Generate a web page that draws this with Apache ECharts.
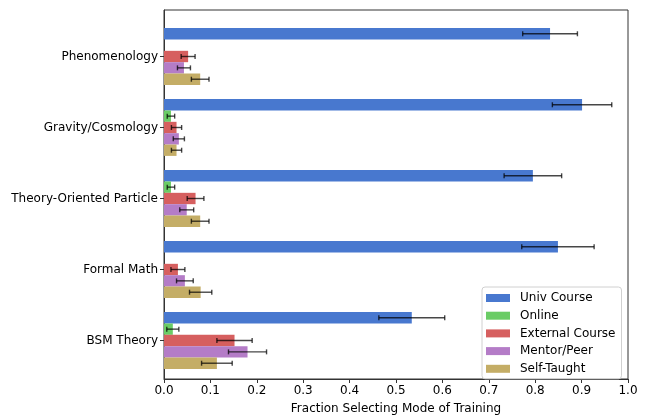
<!DOCTYPE html>
<html>
<head>
<meta charset="utf-8">
<script src="https://cdn.jsdelivr.net/npm/echarts@6/dist/echarts.min.js"></script>
<style>
  html, body { margin: 0; padding: 0; background: #fff; }
  #chart { width: 650px; height: 420px; }
</style>
</head>
<body>
<div id="chart"></div>
<script>
// categories, top to bottom
const categories = ['Phenomenology', 'Gravity/Cosmology', 'Theory-Oriented Particle', 'Formal Math', 'BSM Theory']
const seriesNames = ['Univ Course', 'Online', 'External Course', 'Mentor/Peer', 'Self-Taught']
const colors = ['#4878CF', '#6ACC65', '#D65F5F', '#B47CC7', '#C4AD66']

// fractions per category
const univCourse = [0.832, 0.901, 0.795, 0.849, 0.534]
const online = [0, 0.015, 0.015, 0, 0.019]
const externalCourse = [0.052, 0.027, 0.068, 0.030, 0.152]
const mentorPeer = [0.043, 0.032, 0.049, 0.045, 0.180]
const selfTaught = [0.078, 0.027, 0.078, 0.079, 0.114]

// error bar half-widths
const univCourseErr = [0.059, 0.064, 0.062, 0.078, 0.071]
const onlineErr = [0, 0.008, 0.008, 0, 0.013]
const externalCourseErr = [0.015, 0.011, 0.018, 0.015, 0.038]
const mentorPeerErr = [0.014, 0.012, 0.015, 0.018, 0.041]
const selfTaughtErr = [0.019, 0.011, 0.019, 0.024, 0.033]

const xTicks = { min: 0, max: 1, interval: 0.1 }

const values = [univCourse, online, externalCourse, mentorPeer, selfTaught]
const errors = [univCourseErr, onlineErr, externalCourseErr, mentorPeerErr, selfTaughtErr]

const BAR_FRAC = 0.16 // each bar is 0.16 of a category band
const font = 'DejaVu Sans'

// error bar items: [value, category index, err, series index]
let errData = []
for (let s = 0; s < values.length; s++) {
  for (let c = 0; c < categories.length; c++) {
    if (values[s][c] > 0) {
      errData.push([values[s][c], c, errors[s][c], s])
    }
  }
}

function renderErr (params, api) {
  let v = api.value(0)
  let c = api.value(1)
  let e = api.value(2)
  let s = api.value(3)
  let center = api.coord([v, c])
  let band = api.size([0, 1])[1]
  let y = center[1] + (s - 2) * band * BAR_FRAC
  let x0 = api.coord([v - e, c])[0]
  let x1 = api.coord([v + e, c])[0]
  let style = { stroke: 'rgba(0,0,0,0.72)', lineWidth: 1.4 }
  let cap = 2.5
  return {
    type: 'group',
    children: [
      { type: 'line', shape: { x1: x0, y1: y, x2: x1, y2: y }, style: style },
      { type: 'line', shape: { x1: x0, y1: y - cap, x2: x0, y2: y + cap }, style: style },
      { type: 'line', shape: { x1: x1, y1: y - cap, x2: x1, y2: y + cap }, style: style }
    ]
  }
}

const chart = echarts.init(document.getElementById('chart'), null, { renderer: 'canvas' })

let barSeries = seriesNames.map(function (name, i) {
  return {
    name: name,
    type: 'bar',
    xAxisIndex: 1,
    yAxisIndex: 1,
    barWidth: 71 * BAR_FRAC,
    barGap: '0%',
    itemStyle: { color: colors[i] },
    data: values[i],
    z: 2
  }
})

const option = {
  animation: false,
  textStyle: { fontFamily: font },
  grid: [
    { left: 164, right: 22, top: 10, bottom: 30, show: true, borderColor: '#333', borderWidth: 1, backgroundColor: 'transparent' },
    { left: 164, right: 22, top: 21, height: 355 }
  ],
  xAxis: [
    {
      gridIndex: 0,
      type: 'value',
      min: xTicks.min,
      max: xTicks.max,
      interval: xTicks.interval,
      splitLine: { show: false },
      axisLine: { show: true, lineStyle: { color: '#333', width: 1 } },
      axisTick: { show: true, length: 4, lineStyle: { color: '#333' } },
      axisLabel: {
        color: '#000',
        fontSize: 12,
        margin: 6,
        formatter: function (d) { return d.toFixed(1) }
      },
      name: 'Fraction Selecting Mode of Training',
      nameLocation: 'middle',
      nameGap: 24,
      nameTextStyle: { color: '#000', fontSize: 12 }
    },
    {
      gridIndex: 1,
      type: 'value',
      min: xTicks.min,
      max: xTicks.max,
      show: false
    }
  ],
  yAxis: [
    {
      gridIndex: 0,
      type: 'value',
      axisLine: { show: true, lineStyle: { color: '#333', width: 1 } },
      axisTick: { show: false },
      axisLabel: { show: false },
      splitLine: { show: false }
    },
    {
      gridIndex: 1,
      type: 'category',
      inverse: true,
      data: categories,
      axisLine: { show: false },
      axisTick: { show: true, alignWithLabel: true, length: 4, lineStyle: { color: '#333' } },
      axisLabel: { color: '#000', fontSize: 12, margin: 6 },
      splitLine: { show: false }
    }
  ],
  legend: {
    orient: 'vertical',
    left: 482,
    top: 287,
    data: seriesNames,
    icon: 'rect',
    itemWidth: 24,
    itemHeight: 8,
    itemGap: 5.7,
    padding: [5, 6, 4, 4],
    borderColor: '#d0d0d0',
    borderWidth: 1,
    borderRadius: 3,
    backgroundColor: 'rgba(255,255,255,0.8)',
    textStyle: { color: '#000', fontSize: 12, padding: [0, 0, 0, 5] }
  },
  series: barSeries.concat([{
    type: 'custom',
    xAxisIndex: 1,
    yAxisIndex: 1,
    renderItem: renderErr,
    encode: { x: 0, y: 1 },
    data: errData,
    z: 5,
    silent: true
  }])
}

chart.setOption(option)
</script>
</body>
</html>
